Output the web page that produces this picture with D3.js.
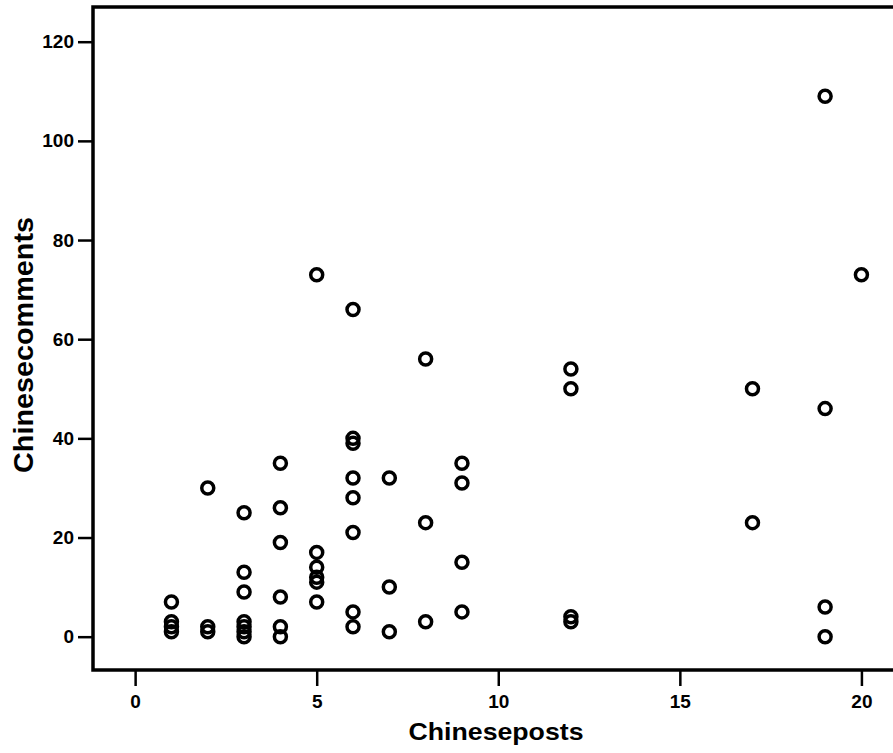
<!DOCTYPE html>
<html lang="en">
  <head>
    <meta charset="utf-8">
    <title>Chineseposts vs Chinesecomments</title>
    <script src="https://d3js.org/d3.v7.min.js"></script>
    <style>
      body {
        background-color: white;
        margin: 0;
      }
      svg {
        background-color: white;
        display: block;
      }
      .tick text {
        font-family: "Liberation Sans", Arial, sans-serif;
        font-weight: bold;
        font-size: 19px;
        fill: #000;
      }
      .tick line {
        stroke: #000;
        stroke-width: 2.5;
      }
      .title {
        font-family: "Liberation Sans", Arial, sans-serif;
        font-weight: bold;
        fill: #000;
      }
    </style>
  </head>
  <body>
    <script>
      var w = 893;
      var h = 753;

      // one entry per case
      var posts    = [1, 1, 1, 1, 2, 2, 2, 3, 3, 3, 3, 3, 3, 3, 4, 4, 4, 4, 4, 4,
                      5, 5, 5, 5, 5, 5, 6, 6, 6, 6, 6, 6, 6, 6, 7, 7, 7, 8, 8, 8,
                      9, 9, 9, 9, 12, 12, 12, 12, 17, 17, 19, 19, 19, 19, 20];
      var comments = [7, 3, 2, 1, 30, 2, 1, 25, 13, 9, 3, 2, 1, 0, 35, 26, 19, 8, 2, 0,
                      73, 17, 14, 12, 11, 7, 66, 40, 39, 32, 28, 21, 5, 2, 32, 10, 1, 56, 23, 3,
                      35, 31, 15, 5, 54, 50, 4, 3, 50, 23, 109, 46, 6, 0, 73];

      var xTicks = [0, 5, 10, 15, 20];
      var yTicks = [0, 20, 40, 60, 80, 100, 120];

      // plot frame (right edge runs off the picture)
      var frameL = 93, frameR = 905, frameT = 7, frameB = 670;

      var x = d3.scaleLinear().domain([-1.16, 21.2]).range([frameL, frameR]);
      var y = d3.scaleLinear().domain([-6.72, 127]).range([frameB, frameT]);

      var svg = d3.select("body")
        .append("svg")
        .attr("width", w)
        .attr("height", h);

      svg.append("g")
        .attr("transform", "translate(0," + (frameB + 1) + ")")
        .call(d3.axisBottom(x).tickValues(xTicks).tickSize(15).tickPadding(9).tickFormat(d3.format("d")))
        .call(g => g.select(".domain").remove());

      svg.append("g")
        .attr("transform", "translate(" + (frameL - 1) + ",0)")
        .call(d3.axisLeft(y).tickValues(yTicks).tickSize(14).tickPadding(4).tickFormat(d3.format("d")))
        .call(g => g.select(".domain").remove());

      svg.append("rect")
        .attr("x", frameL)
        .attr("y", frameT)
        .attr("width", frameR - frameL)
        .attr("height", frameB - frameT)
        .attr("fill", "none")
        .attr("stroke", "#000")
        .attr("stroke-width", 3.5);

      svg.append("g").selectAll("circle")
        .data(d3.range(posts.length))
        .enter().append("circle")
        .attr("cx", function(i) { return x(posts[i]); })
        .attr("cy", function(i) { return y(comments[i]); })
        .attr("r", 6)
        .attr("fill", "none")
        .attr("stroke", "#000")
        .attr("stroke-width", 3.5);

      svg.append("text")
        .attr("class", "title")
        .attr("x", 496)
        .attr("y", 740)
        .attr("text-anchor", "middle")
        .attr("font-size", 24)
        .attr("textLength", 175)
        .attr("lengthAdjust", "spacingAndGlyphs")
        .text("Chineseposts");

      svg.append("text")
        .attr("class", "title")
        .attr("transform", "translate(33,345) rotate(-90)")
        .attr("text-anchor", "middle")
        .attr("font-size", 27)
        .attr("textLength", 256)
        .attr("lengthAdjust", "spacingAndGlyphs")
        .text("Chinesecomments");
    </script>
  </body>
</html>
